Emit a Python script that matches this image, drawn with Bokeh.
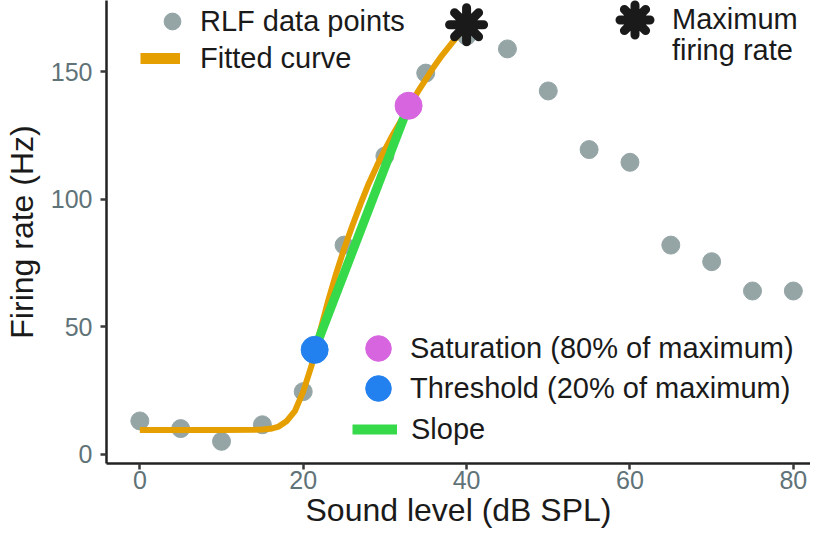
from bokeh.plotting import figure
from bokeh.models import Legend, LegendItem, Range1d
from bokeh.embed import file_html
from bokeh.resources import INLINE

# ---- data ----
level = [0, 5, 10, 15, 20, 25, 30, 35, 40, 45, 50, 55, 60, 65, 70, 75, 80]
rate = [13, 10, 5, 11.5, 24.5, 82, 117, 149.5, 164, 159, 142.5, 119.5, 114.5, 82, 75.5, 64, 64]

fit_level = [0, 5, 10, 14, 15, 16, 17, 18, 19, 20, 21, 22, 23, 24, 25, 26, 27, 28,
             29, 30, 31, 32, 33, 34, 35, 36, 37, 38, 39, 40]
fit_rate = [9.4, 9.4, 9.4, 9.5, 9.6, 9.9, 10.8, 13.0, 17.0, 24.5, 34.5, 47.5, 59.5, 70.5,
            80.5, 89.5, 98, 106, 113, 119.5, 125.5, 131, 136.5, 142, 147, 152, 156.5,
            160.5, 164.5, 168.5]

threshold_level = [21.4]
threshold_rate = [40.9]
saturation_level = [32.9]
saturation_rate = [136.7]
max_level = [40]
max_rate = [168.5]

x_ticks = [0, 20, 40, 60, 80]
y_ticks = [0, 50, 100, 150]

GRAY = "#95A5A6"
ORANGE = "#E69F00"
GREEN = "#36D94A"
PINK = "#D865E0"
BLUE = "#2281EE"
BLACK = "#1A1A1A"
FONT = "Liberation Sans"

F_LEFT = 106
p = figure(width=810, height=534, output_backend="svg", toolbar_location=None,
           x_range=Range1d(-4.08, 82.1), y_range=Range1d(-3.7, 178),
           min_border_left=F_LEFT, min_border_right=0, min_border_top=0,
           min_border_bottom=71)
p.outline_line_color = None
p.grid.visible = False
p.background_fill_color = "white"
p.border_fill_color = "white"

p.xaxis.ticker = x_ticks
p.yaxis.ticker = y_ticks
p.xaxis.axis_label = "Sound level (dB SPL)"
p.yaxis.axis_label = "Firing rate (Hz)"
for ax in (p.xaxis, p.yaxis):
    ax.axis_label_text_font = FONT
    ax.axis_label_text_font_size = "32px"
    ax.axis_label_text_font_style = "normal"
    ax.axis_label_text_color = BLACK
    ax.major_label_text_font = FONT
    ax.major_label_text_font_size = "25px"
    ax.major_label_text_color = "#5f7378"
    ax.axis_line_color = "#222222"
    ax.axis_line_width = 2.5
    ax.major_tick_line_color = "#3a3a3a"
    ax.major_tick_line_width = 2.5
    ax.major_tick_out = 6
    ax.major_tick_in = 0
    ax.minor_tick_line_color = None
p.xaxis.major_label_standoff = 1
p.xaxis.axis_label_standoff = 0
p.yaxis.major_label_standoff = 8
p.yaxis.axis_label_standoff = 8

# ---- marks ----
pts = p.scatter(level, rate, size=18, color=GRAY)
curve = p.line(fit_level, fit_rate, line_width=6, color=ORANGE)
slope = p.line(threshold_level + saturation_level, threshold_rate + saturation_rate,
               line_width=9, color=GREEN)
thr = p.scatter(threshold_level, threshold_rate, size=27, color=BLUE)
sat = p.scatter(saturation_level, saturation_rate, size=27, color=PINK)
mx = p.scatter(max_level, max_rate, marker="asterisk", size=34, line_width=9,
               line_color=BLACK, line_cap="round")

# legend-only (hidden) renderers for thicker legend keys
curve_key = p.line(fit_level, fit_rate, line_width=11, color=ORANGE, visible=False)
slope_key = p.line(threshold_level + saturation_level, threshold_rate + saturation_rate,
                   line_width=10, color=GREEN, visible=False)

H = 463  # expected frame height


def add_legend(label, renderers, left, top, gw, gh, standoff):
    lg = Legend(items=[LegendItem(label=label, renderers=renderers)],
                location=(left - F_LEFT, H - top - gh),
                glyph_width=gw, glyph_height=gh, label_height=gh,
                label_standoff=standoff, padding=0, margin=0, spacing=0,
                background_fill_alpha=0, border_line_alpha=0,
                inactive_fill_alpha=0,
                label_text_font=FONT, label_text_font_size="29px",
                label_text_color=BLACK)
    p.add_layout(lg)
    return lg


add_legend("RLF data points", [pts], 151, 0, 42, 42, 7)
add_legend("Fitted curve", [curve_key], 140, 41, 40, 34, 20)
add_legend("Maximum", [mx], 597, -18.5, 75, 75, 0)
add_legend("firing rate", [], 671, 37, 1, 30, 0)
add_legend("Saturation (80% of maximum)", [sat], 346, 316, 64, 64, 0)
add_legend("Threshold (20% of maximum)", [thr], 346, 356, 64, 64, 0)
add_legend("Slope", [slope_key], 352, 412, 45, 34, 14)

open("out.html", "w").write(file_html(p, INLINE))
